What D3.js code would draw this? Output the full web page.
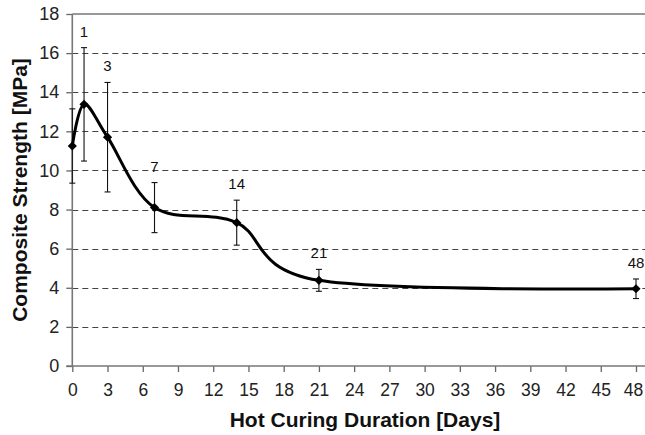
<!DOCTYPE html>
<html>
<head>
<meta charset="utf-8">
<script src="https://cdn.jsdelivr.net/npm/d3@7"></script>
<style>
  html, body { margin: 0; padding: 0; background: #fff; }
  svg { display: block; }
</style>
</head>
<body>
<svg id="chart" width="645" height="435"></svg>
<script>
// ---- data ----
const days      = [0, 1, 3, 7, 14, 21, 48];
const strength  = [11.25, 13.38, 11.7, 8.1, 7.33, 4.38, 3.95];
const errorBars = [1.9, 2.9, 2.8, 1.28, 1.15, 0.56, 0.5];
const pointLabels = ["", "1", "3", "7", "14", "21", "48"];
const xTicks = [0, 3, 6, 9, 12, 15, 18, 21, 24, 27, 30, 33, 36, 39, 42, 45, 48];
const yTicks = [0, 2, 4, 6, 8, 10, 12, 14, 16, 18];

(function () {
const font = "'Liberation Sans', Arial, Helvetica, sans-serif";
const svg = d3.select("#chart");
const W = 645;
const pL = 72.3, pR = 636, pT = 14, pB = 366;

const x = d3.scaleLinear().domain([0, 48]).range([pL, pR]);
const y = d3.scaleLinear().domain([0, 18]).range([pB, pT]);

const pts = days.map((d, i) => ({ d, v: strength[i], e: errorBars[i], lab: pointLabels[i] }));

// grid lines (dashed)
svg.append("g").selectAll("line")
  .data(yTicks.filter(t => t > 0 && t < 18))
  .join("line")
  .attr("x1", pL).attr("x2", W)
  .attr("y1", d => Math.round(y(d)) + 0.5).attr("y2", d => Math.round(y(d)) + 0.5)
  .attr("stroke", "#444").attr("stroke-width", 1.1)
  .attr("stroke-dasharray", "6,4");

// top border
svg.append("line")
  .attr("x1", pL).attr("x2", W)
  .attr("y1", y(18)).attr("y2", y(18))
  .attr("stroke", "#777").attr("stroke-width", 1.6);

// y axis
const yAxis = svg.append("g")
  .attr("transform", `translate(${pL},0)`)
  .call(d3.axisLeft(y).tickValues(yTicks).tickSize(6).tickPadding(7));
yAxis.select(".domain").remove();
yAxis.selectAll(".tick line").attr("stroke", "#666").attr("stroke-width", 1.3);
yAxis.selectAll(".tick text")
  .attr("font-family", font).attr("font-size", 18).attr("fill", "#222");
svg.append("line")
  .attr("x1", pL).attr("x2", pL).attr("y1", pT).attr("y2", pB)
  .attr("stroke", "#777").attr("stroke-width", 1.6);

// x axis
const xAxis = svg.append("g")
  .attr("transform", `translate(0,${pB})`)
  .call(d3.axisBottom(x).tickValues(xTicks).tickSize(6).tickPadding(12));
xAxis.select(".domain").remove();
xAxis.selectAll(".tick line").attr("stroke", "#666").attr("stroke-width", 1.3);
xAxis.selectAll(".tick text")
  .attr("font-family", font).attr("font-size", 17.5).attr("fill", "#222");
xAxis.selectAll(".tick text").filter(d => d === 48).attr("dx", -3);
svg.append("line")
  .attr("x1", pL - 6).attr("x2", W).attr("y1", pB).attr("y2", pB)
  .attr("stroke", "#777").attr("stroke-width", 1.6);

// error bars
const eb = svg.append("g").attr("stroke", "#111").attr("stroke-width", 1.1);
pts.forEach(p => {
  const cx = x(p.d);
  eb.append("line").attr("x1", cx).attr("x2", cx).attr("y1", y(p.v + p.e)).attr("y2", y(p.v - p.e));
  eb.append("line").attr("x1", cx - 3).attr("x2", cx + 3).attr("y1", y(p.v + p.e)).attr("y2", y(p.v + p.e));
  eb.append("line").attr("x1", cx - 3).attr("x2", cx + 3).attr("y1", y(p.v - p.e)).attr("y2", y(p.v - p.e));
});

// smoothed line
const line = d3.line()
  .x(p => x(p.d)).y(p => y(p.v))
  .curve(d3.curveCardinal.tension(0));
svg.append("path")
  .datum(pts)
  .attr("d", line)
  .attr("fill", "none")
  .attr("stroke", "#000")
  .attr("stroke-width", 3)
  .attr("stroke-linejoin", "round");

// diamond markers
svg.append("g").selectAll("path")
  .data(pts)
  .join("path")
  .attr("d", d3.symbol(d3.symbolSquare, 42))
  .attr("transform", p => `translate(${x(p.d)},${y(p.v)}) rotate(45)`)
  .attr("fill", "#000");

// point labels
svg.append("g").selectAll("text")
  .data(pts.filter(p => p.lab !== ""))
  .join("text")
  .attr("x", p => x(p.d))
  .attr("y", p => y(p.v + p.e) - 11)
  .attr("text-anchor", "middle")
  .attr("font-family", font).attr("font-size", 15).attr("fill", "#111")
  .text(p => p.lab);

// axis titles
svg.append("text")
  .attr("x", 365).attr("y", 427)
  .attr("text-anchor", "middle")
  .attr("font-family", font).attr("font-size", 21).attr("font-weight", "bold").attr("fill", "#111")
  .text("Hot Curing Duration [Days]");

svg.append("text")
  .attr("transform", `translate(27,${(pT + pB) / 2}) rotate(-90)`)
  .attr("text-anchor", "middle")
  .attr("font-family", font).attr("font-size", 21).attr("font-weight", "bold").attr("fill", "#111")
  .text("Composite Strength [MPa]");
})();
</script>
</body>
</html>
